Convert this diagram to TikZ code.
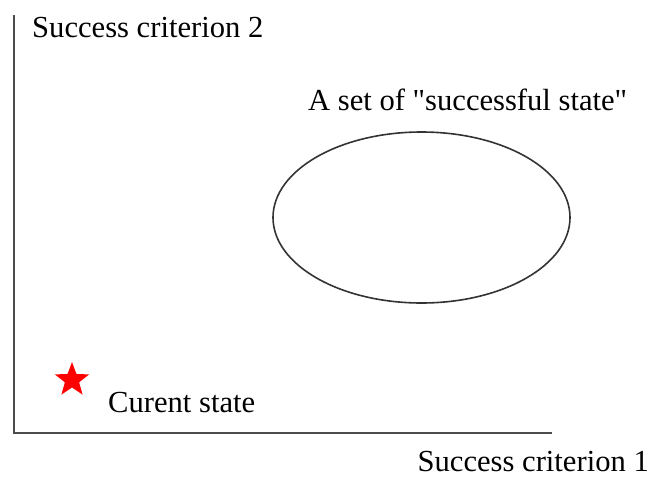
\documentclass[tikz,border=0pt]{standalone}
\usepackage{fontspec}
\setmainfont{Liberation Serif}[Ligatures=TeXOff]
\usetikzlibrary{shapes.geometric, positioning}

\begin{document}
\begin{tikzpicture}[x=1pt,y=-1pt,
    every node/.style={inner sep=0pt, font=\fontsize{30.6}{36}\selectfont},
    axis/.style={line width=2.2pt, draw=black!70},
    label/.style={anchor=base west}]
    \useasboundingbox (0,0) rectangle (653,480);

    \coordinate (ytop) at (14,15);
    \coordinate (origin) at (14,433);
    \coordinate (xend) at (552,433);
    \draw[axis] (ytop) -- (origin) -- (xend);

    \node [label] (crit2) at (32,37) {Success criterion 2};
    \node [label, anchor=base east] (crit1) at (649,471) {Success criterion 1};

    \node [ellipse, draw=black!80, line width=1.6pt, minimum width=297pt, minimum height=171pt] (goal) at (421.5,217.5) {};
    \node [label] (goallabel) at (308,110) {A set of "successful state"};

    \node [star, star points=5, star point ratio=2.4, fill=red, minimum size=36pt] (now) at (72,380) {};
    \node [label] (nowlabel) at (108,412) {Curent state};
\end{tikzpicture}
\end{document}
